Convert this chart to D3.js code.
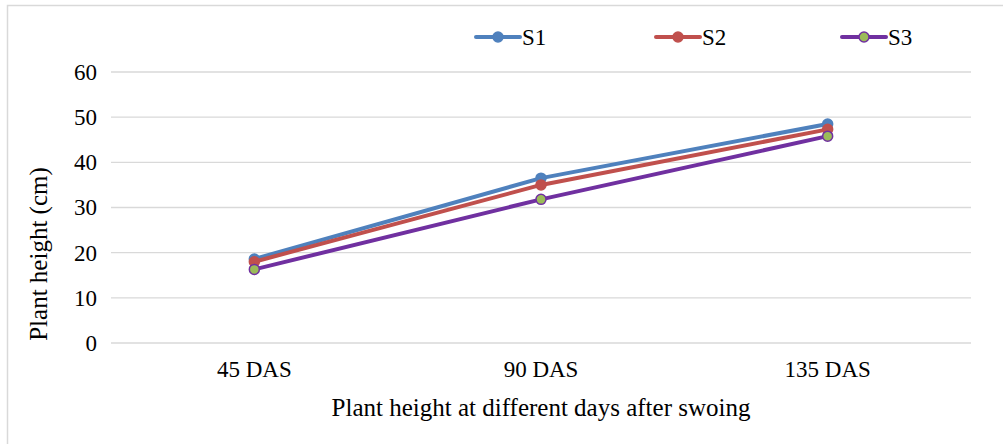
<!DOCTYPE html>
<html>
<head>
<meta charset="utf-8">
<script src="https://cdn.jsdelivr.net/npm/d3@7"></script>
<style>
  body { margin: 0; background: #fff; }
  text { font-family: "Liberation Serif", "Times New Roman", serif; fill: #000; }
</style>
</head>
<body>
<div id="chart"></div>
<script>
var svgWidth = 1003;
var svgHeight = 444;

// data
var categories = ["45 DAS", "90 DAS", "135 DAS"];
var seriesNames = ["S1", "S2", "S3"];
var s1 = [18.6, 36.5, 48.5];
var s2 = [18.0, 35.0, 47.3];
var s3 = [16.3, 31.8, 45.8];
var yTicks = [0, 10, 20, 30, 40, 50, 60];

var margin = { top: 72, right: 32, bottom: 101, left: 111 };
var width = svgWidth - margin.left - margin.right;
var height = svgHeight - margin.top - margin.bottom;

var lineColors = ["#4F81BD", "#C0504D", "#7030A0"];
var markerFills = ["#4F81BD", "#C0504D", "#9BBB59"];

var svg = d3.select("#chart")
  .append("svg")
  .attr("width", svgWidth)
  .attr("height", svgHeight);

// chart border
svg.append("rect")
  .attr("x", 7.5)
  .attr("y", 5.5)
  .attr("width", svgWidth + 10)
  .attr("height", svgHeight + 10)
  .attr("fill", "none")
  .attr("stroke", "#d9d9d9")
  .attr("stroke-width", 1.5);

var chartGroup = svg.append("g")
  .attr("transform", `translate(${margin.left}, ${margin.top})`);

var xScale = d3.scaleBand()
  .domain(categories)
  .range([0, width]);

var yScale = d3.scaleLinear()
  .domain([0, 60])
  .range([height, 0]);

// gridlines
chartGroup.append("g")
  .selectAll("line")
  .data(yTicks)
  .enter()
  .append("line")
  .attr("x1", 0)
  .attr("x2", width)
  .attr("y1", d => yScale(d))
  .attr("y2", d => yScale(d))
  .attr("stroke", "#d9d9d9")
  .attr("stroke-width", 1.3);

// y axis
var leftAxis = d3.axisLeft(yScale).tickValues(yTicks).tickSize(0).tickPadding(14);
var yAxis = chartGroup.append("g").call(leftAxis);
yAxis.select(".domain").remove();
yAxis.selectAll("text")
  .attr("font-size", 23)
  .style("font-family", "Liberation Serif, serif");

// x axis
var bottomAxis = d3.axisBottom(xScale).tickSize(0).tickPadding(18);
var xAxis = chartGroup.append("g")
  .attr("transform", `translate(0, ${height})`)
  .call(bottomAxis);
xAxis.select(".domain").remove();
xAxis.selectAll("text")
  .attr("font-size", 23)
  .style("font-family", "Liberation Serif, serif");

// axis titles
chartGroup.append("text")
  .attr("x", width / 2)
  .attr("y", height + 73)
  .attr("text-anchor", "middle")
  .attr("font-size", 25)
  .text("Plant height at different days after swoing");

chartGroup.append("text")
  .attr("transform", "rotate(-90)")
  .attr("x", -182)
  .attr("y", -64)
  .attr("text-anchor", "middle")
  .attr("font-size", 25)
  .text("Plant height (cm)");

// lines and markers
var allSeries = [s1, s2, s3];
var line = d3.line()
  .x((d, i) => xScale(categories[i]) + xScale.bandwidth() / 2)
  .y(d => yScale(d));

allSeries.forEach(function (values, k) {
  chartGroup.append("path")
    .datum(values)
    .attr("d", line)
    .attr("fill", "none")
    .attr("stroke", lineColors[k])
    .attr("stroke-width", 4)
    .attr("stroke-linejoin", "round");

  chartGroup.selectAll(".marker" + k)
    .data(values)
    .enter()
    .append("circle")
    .attr("cx", (d, i) => xScale(categories[i]) + xScale.bandwidth() / 2)
    .attr("cy", d => yScale(d))
    .attr("r", 5)
    .attr("fill", markerFills[k])
    .attr("stroke", lineColors[k])
    .attr("stroke-width", 1.5);
});

// legend
var legendX = [476, 656, 842];
var legend = svg.append("g");
seriesNames.forEach(function (name, k) {
  var g = legend.append("g").attr("transform", `translate(${legendX[k]}, 37)`);
  g.append("line")
    .attr("x1", 0).attr("x2", 44)
    .attr("y1", 0).attr("y2", 0)
    .attr("stroke", lineColors[k])
    .attr("stroke-width", 4)
    .attr("stroke-linecap", "round");
  g.append("circle")
    .attr("cx", 22).attr("cy", 0).attr("r", 5)
    .attr("fill", markerFills[k])
    .attr("stroke", lineColors[k])
    .attr("stroke-width", 1.5);
  g.append("text")
    .attr("x", 46)
    .attr("y", 8)
    .attr("font-size", 23)
    .text(name);
});
</script>
</body>
</html>
